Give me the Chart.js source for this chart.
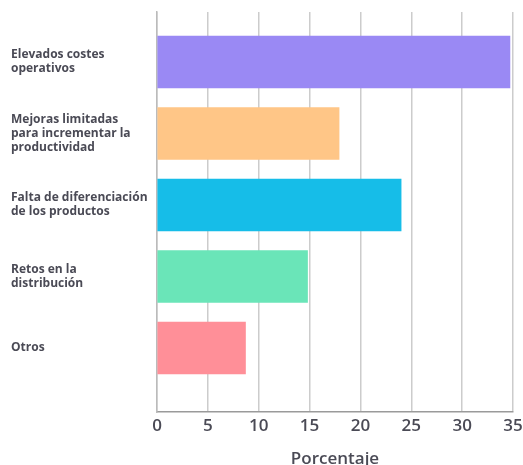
<!DOCTYPE html>
<html>
<head>
<meta charset="utf-8">
<script src="https://cdn.jsdelivr.net/npm/chart.js@4/dist/chart.umd.min.js"></script>
<style>
  html, body { margin: 0; padding: 0; background: #fff; }
  #wrap { width: 523px; height: 465px; }
</style>
</head>
<body>
<div id="wrap"><canvas id="chart"></canvas></div>
<script>
// categories, top to bottom
var categories = [
  ['Elevados costes', 'operativos'],
  ['Mejoras limitadas', 'para incrementar la', 'productividad'],
  ['Falta de diferenciación', 'de los productos'],
  ['Retos en la', 'distribución'],
  ['Otros']
];
var percentages = [34.7, 17.9, 24.0, 14.8, 8.7];
var barColours = ['#9a89f4', '#ffc687', '#16bde8', '#6ae5b8', '#ff8f98'];
var xTicks = [0, 5, 10, 15, 20, 25, 30, 35];

var textColour = '#4a4a55';
var fontFamily = "'Open Sans', 'DejaVu Sans', sans-serif";

// bars sit on a linear y scale so the band can be offset like the original
var points = percentages.map(function(v, i){ return {x: v, y: i}; });

new Chart(document.getElementById('chart'), {
  type: 'bar',
  data: {
    datasets: [{
      data: points,
      backgroundColor: barColours,
      borderWidth: 0,
      barThickness: 52
    }]
  },
  options: {
    indexAxis: 'y',
    responsive: true,
    maintainAspectRatio: false,
    animation: false,
    layout: {padding: {left: 11, top: 12, right: 0, bottom: 0}},
    plugins: {legend: {display: false}, tooltip: {enabled: false}},
    scales: {
      x: {
        type: 'linear',
        min: 0,
        max: 35,
        afterBuildTicks: function(scale){
          scale.ticks = xTicks.map(function(v){ return {value: v}; });
        },
        afterFit: function(scale){
          scale.height = 53;
          scale.paddingRight = 10;
        },
        grid: {color: '#cccccc', lineWidth: 1.5, drawTicks: false},
        border: {color: '#9a9a9a', width: 1.5},
        ticks: {color: textColour, padding: 4, font: {family: fontFamily, size: 17, weight: '600'}},
        title: {
          display: true,
          text: 'Porcentaje',
          color: textColour,
          padding: {top: 0, bottom: -4},
          font: {family: fontFamily, size: 17, weight: '600'}
        }
      },
      y: {
        type: 'linear',
        reverse: true,
        offset: false,
        min: -0.7,
        max: 4.895,
        afterBuildTicks: function(scale){
          scale.ticks = categories.map(function(c, i){ return {value: i}; });
        },
        afterFit: function(scale){ scale.width = 146; },
        grid: {display: false, offset: false},
        border: {color: '#bbbbbb', width: 1.5},
        ticks: {
          color: textColour,
          crossAlign: 'far',
          font: {family: fontFamily, size: 12, weight: 'bold', lineHeight: 1.17},
          callback: function(value){
            return Number.isInteger(value) ? categories[value] : '';
          }
        }
      }
    }
  }
});
</script>
</body>
</html>
